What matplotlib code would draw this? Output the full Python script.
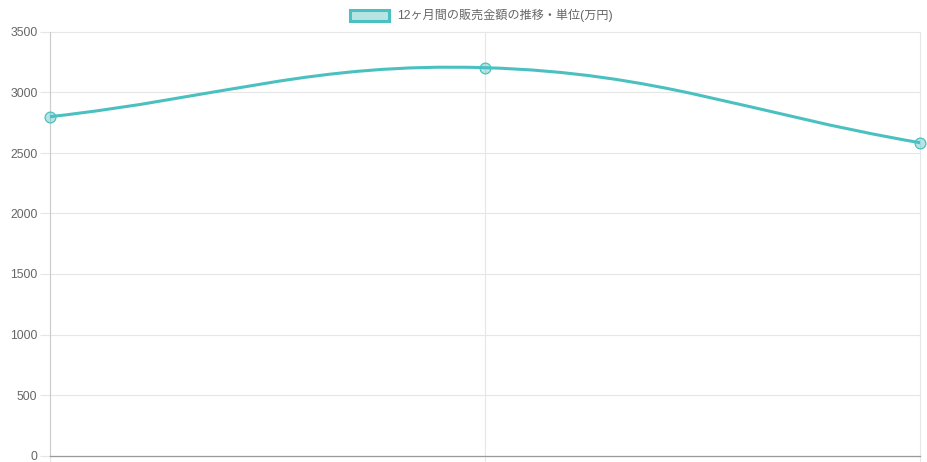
import matplotlib
matplotlib.use("Agg")
import matplotlib.pyplot as plt
from matplotlib.path import Path
from matplotlib.patches import PathPatch, Rectangle
import numpy as np

plt.rcParams['font.family'] = ['Liberation Sans', 'Noto Sans CJK JP', 'DejaVu Sans']

# data
labels = ["", "", ""]
sales = [2800, 3205, 2585]
legend_label = "12ヶ月間の販売金額の推移・単位(万円)"
y_ticks = [0, 500, 1000, 1500, 2000, 2500, 3000, 3500]

teal = (75/255, 192/255, 192/255)
teal_fill = (75/255, 192/255, 192/255, 0.4)
grid_col = "#e6e6e6"
text_col = "#666666"

W, H = 928, 462
fig = plt.figure(figsize=(W/100, H/100), dpi=100)
ax = fig.add_axes([50/W, (H-455.5)/H, 870/W, (455.5-32)/H])

x = np.arange(len(sales))
ax.set_xlim(0, len(sales)-1)
ax.set_ylim(0, 3500)

# chart.js style bezier (tension 0.4), computed in pixel space
tension = 0.4
pts = ax.transData.transform(np.column_stack([x, sales]))
n = len(pts)
verts = [pts[0]]
codes = [Path.MOVETO]
ctrl = []
for i in range(n):
    prev = pts[i-1] if i > 0 else pts[i]
    cur = pts[i]
    nxt = pts[i+1] if i < n-1 else pts[i]
    d01 = np.hypot(*(cur-prev))
    d12 = np.hypot(*(nxt-cur))
    s01 = d01/(d01+d12) if d01+d12 else 0
    s12 = d12/(d01+d12) if d01+d12 else 0
    fa = tension*s01
    fb = tension*s12
    ctrl.append((cur - fa*(nxt-prev), cur + fb*(nxt-prev)))
for i in range(1, n):
    verts += [ctrl[i-1][1], ctrl[i][0], pts[i]]
    codes += [Path.CURVE4]*3
verts = ax.transData.inverted().transform(np.array(verts))
ax.add_patch(PathPatch(Path(verts, codes), fill=False, edgecolor=teal,
                       lw=2.2, capstyle='round', joinstyle='round', zorder=3))
ax.scatter(x, sales, s=60, facecolor=teal_fill, edgecolor=teal, lw=0.9,
           zorder=4, clip_on=False)

# axes styling
ax.set_yticks(y_ticks)
ax.set_xticks(x)
ax.set_xticklabels(labels)
ax.grid(True, color=grid_col, lw=0.8)
for gl in ax.get_xgridlines() + ax.get_ygridlines():
    gl.set_clip_on(False)
ax.set_axisbelow(True)
for s in ["top", "right"]:
    ax.spines[s].set_visible(False)
ax.spines["left"].set_color("#cccccc")
ax.spines["left"].set_linewidth(0.8)
ax.spines["bottom"].set_color("#999999")
ax.spines["bottom"].set_linewidth(0.9)
ax.tick_params(axis="y", length=7, width=0.8, color=grid_col, colors=text_col,
               labelsize=8.8, pad=2)
ax.tick_params(axis="x", length=5, width=0.8, color=grid_col)
for lab in ax.get_yticklabels():
    lab.set_color(text_col)

# legend (drawn like chart.js)
fig.patches.append(Rectangle((350/W, (H-21)/H), 39/W, 11/H, transform=fig.transFigure,
                             facecolor=teal_fill, edgecolor=teal, lw=2.2))
fig.text(397/W, (H-15.5)/H, legend_label, ha="left", va="center",
         fontsize=8.7, color=text_col)

fig.savefig("out.png", dpi=100)
